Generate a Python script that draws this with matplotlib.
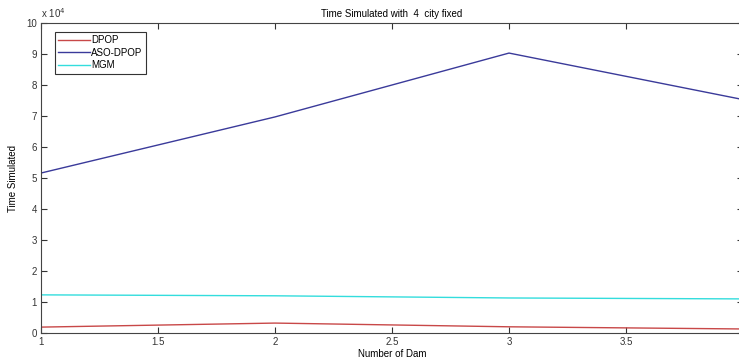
import matplotlib
matplotlib.use('agg')

import matplotlib.pyplot as plt
import numpy as np

plt.rcParams['font.family'] = ['Liberation Sans', 'DejaVu Sans']
plt.rcParams['font.size'] = 7

# number of dams vs simulated time
dams = [1, 2, 3, 4]
dpop = [1900, 3200, 2000, 1300]
aso_dpop = [51600, 69700, 90300, 75300]
mgm = [12300, 12000, 11300, 11000]

# the axis runs just past the right edge, so the "4" label is not shown
x_ticks = [1, 1.5, 2, 2.5, 3, 3.5, 4]
x_labels = ['1', '1.5', '2', '2.5', '3', '3.5', '']

fig = plt.figure(figsize=(7.39, 3.59), dpi=100)
ax = fig.add_axes([41/739, 1 - 333/359, 702/739, 310/359])

ax.plot(dams, dpop, color='#c84848', lw=1, label='DPOP')
ax.plot(dams, aso_dpop, color='#3a3a9a', lw=1, label='ASO-DPOP')
ax.plot(dams, mgm, color='#33dddd', lw=1, label='MGM')

ax.set_xlim(1, 4)
ax.set_ylim(0, 100000)
ax.set_xticks(x_ticks)
ax.set_xticklabels(x_labels)
ax.set_yticks(np.arange(0, 100001, 10000))
ax.set_yticklabels([str(v) for v in range(11)])
ax.text(0, 1.01, r'x 10$^4$', transform=ax.transAxes, fontsize=7, va='bottom', ha='left', color='#333333')

ax.tick_params(direction='in', top=True, right=True, length=4, width=0.8, colors='#333333', pad=3)
for s in ax.spines.values():
    s.set_color('#444444')
    s.set_linewidth(0.8)

ax.set_title('Time Simulated with  4  city fixed', fontsize=7, pad=4)
ax.set_xlabel('Number of Dam', fontsize=7, labelpad=1)
ax.set_ylabel('Time Simulated', fontsize=7, labelpad=6)

leg = ax.legend(loc='upper left', bbox_to_anchor=(14/702, 1 - 9/310), borderaxespad=0,
                fancybox=False, edgecolor='#333333', handlelength=3.2, borderpad=0.35,
                labelspacing=0.25, handletextpad=0.2, framealpha=1)
leg.get_frame().set_linewidth(0.8)

fig.savefig('out.png', dpi=100)
